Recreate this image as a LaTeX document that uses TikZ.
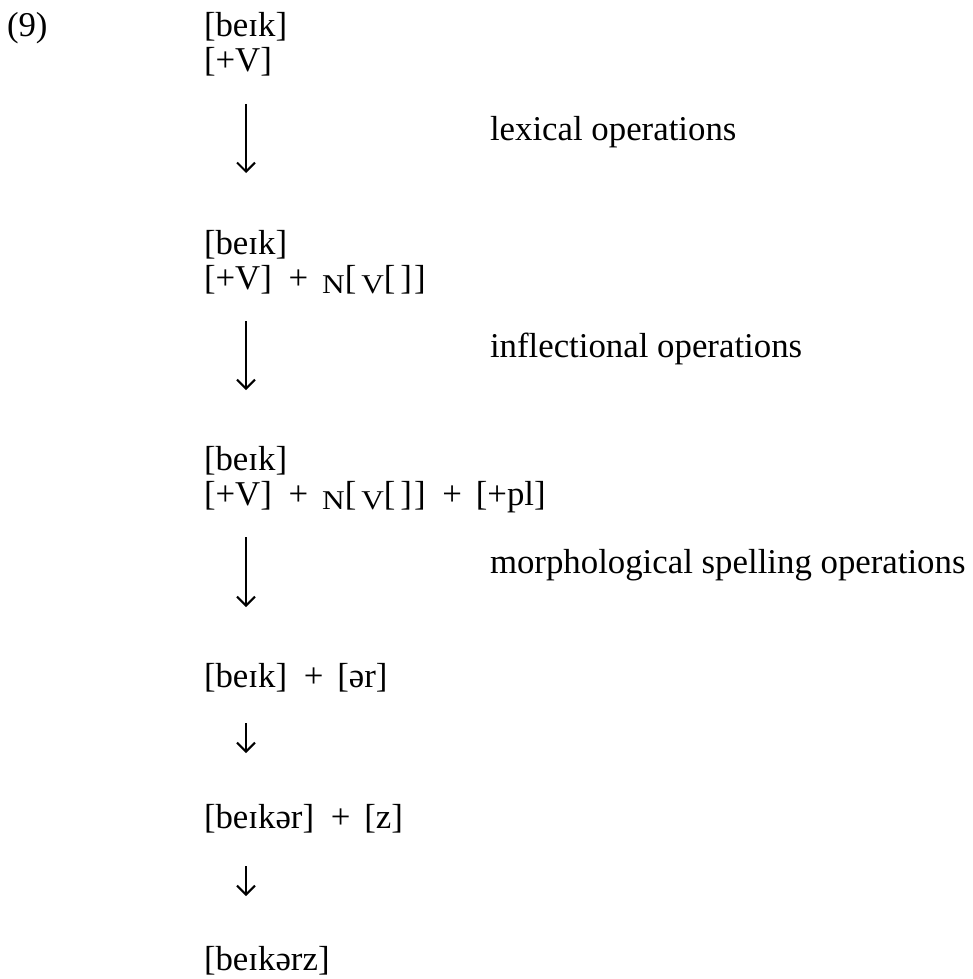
\documentclass[tikz,border=0pt]{standalone}
\usepackage{fontspec}
\setmainfont{Liberation Serif}
\usetikzlibrary{arrows.meta}
\newcommand{\sml}[1]{\raisebox{-0.14em}{\scalebox{0.9}[0.78]{#1}}}
\newcommand{\pls}{\hspace{0.48em}+\hspace{0.4em}}
\newcommand{\nvb}{\sml{N}[\hspace{0.14em}\sml{V}[\hspace{0.14em}]\hspace{0.06em}]}
\tikzset{
  txt/.style={anchor=base west, inner sep=0pt, outer sep=0pt, font=\fontsize{34.8pt}{35pt}\selectfont},
  arr/.style={line width=2.1pt, -{Straight Barb[length=9pt,width=18pt,line width=2.1pt]}}
}
\begin{document}
\begin{tikzpicture}[x=1pt,y=-1pt]
\useasboundingbox (0,0) rectangle (972,979);
\node[txt] (n9) at (7,37) {(9)};
% block 1
\node[txt] (b1a) at (204,37) {[beɪk]};
\node[txt] (b1b) at (204,72) {[+V]};
\coordinate (s1) at (246,104);
\coordinate (e1) at (246,173);
\draw[arr] (s1) -- (e1);
\node[txt] (lab1) at (490,140) {lexical operations};
% block 2
\node[txt] (b2a) at (204,254) {[beɪk]};
\node[txt] (b2b) at (204,289) {[+V]\pls\nvb};
\coordinate (s2) at (246,321);
\coordinate (e2) at (246,390);
\draw[arr] (s2) -- (e2);
\node[txt] (lab2) at (490,357) {inflectional operations};
% block 3
\node[txt] (b3a) at (204,470) {[beɪk]};
\node[txt] (b3b) at (204,505) {[+V]\pls\nvb\pls[+pl]};
\coordinate (s3) at (246,537);
\coordinate (e3) at (246,607);
\draw[arr] (s3) -- (e3);
\node[txt] (lab3) at (490,573) {morphological spelling operations};
% block 4
\node[txt] (r4) at (204,687) {[beɪk]\pls[ər]};
\coordinate (s4) at (246,723);
\coordinate (e4) at (246,753);
\draw[arr] (s4) -- (e4);
% block 5
\node[txt] (r5) at (204,828) {[beɪkər]\pls[z]};
\coordinate (s5) at (246,866);
\coordinate (e5) at (246,896);
\draw[arr] (s5) -- (e5);
% block 6
\node[txt] (r6) at (204,970) {[beɪkərz]};
\end{tikzpicture}
\end{document}
